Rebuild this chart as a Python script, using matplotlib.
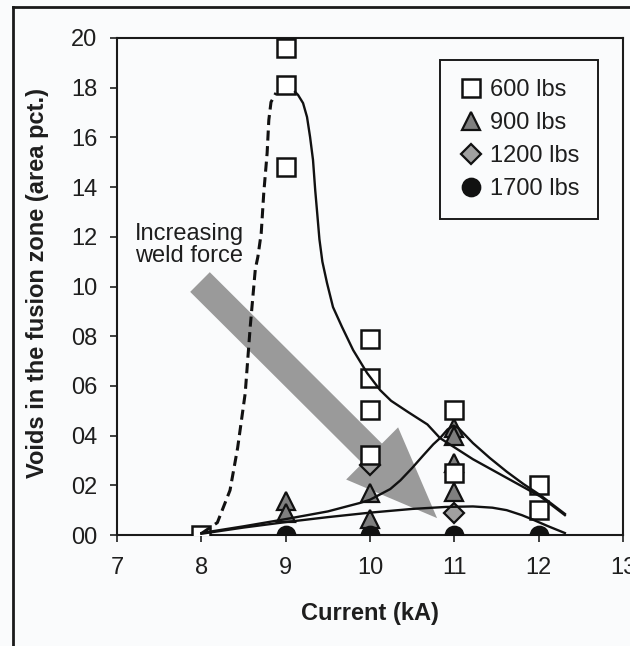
import matplotlib.pyplot as plt
from matplotlib.lines import Line2D

plt.rcParams['font.family'] = ['Liberation Sans', 'DejaVu Sans']

# measured points (current kA, voids)
x_600 = [8, 9, 9, 9, 10, 10, 10, 10, 11, 11, 12, 12]
y_600 = [0.0, 19.6, 18.1, 14.8, 7.9, 6.3, 5.05, 3.2, 5.05, 2.5, 2.0, 1.0]
x_900 = [9, 9, 10, 10, 11, 11, 11, 11]
y_900 = [1.35, 0.9, 1.7, 0.65, 4.3, 4.0, 2.9, 1.75]
x_1200 = [10, 11]
y_1200 = [2.8, 0.9]
x_1700 = [9, 10, 11, 12]
y_1700 = [0.0, 0.0, 0.0, 0.0]

# hand-drawn trend lines
dash_x = [8.01, 8.19, 8.34, 8.43, 8.52, 8.58, 8.64, 8.67, 8.71, 8.74, 8.78, 8.80,
          8.826, 8.885]
dash_y = [0.08, 0.5, 1.8, 3.5, 5.7, 8.4, 10.7, 11.19, 12.15, 13.76, 15.37, 16.7,
          17.42, 17.79]
fit600_x = [9.111, 9.146, 9.206, 9.253, 9.289, 9.324, 9.35, 9.375, 9.40, 9.435,
            9.49, 9.561, 9.668, 9.80, 9.965, 10.12, 10.25, 10.45, 10.68, 10.83,
            11.22, 11.62, 12.02, 12.31]
fit600_y = [17.83, 17.71, 17.38, 16.82, 16.02, 15.09, 13.88, 12.9, 11.9, 11.0,
            10.14, 9.17, 8.37, 7.44, 6.52, 5.83, 5.4, 4.95, 4.45, 3.9,
            3.05, 2.3, 1.55, 0.8]
fit900_x = [8.0, 8.5, 9.0, 9.5, 9.88, 10.0, 10.24, 10.36, 10.5, 10.63, 10.75,
            10.83, 10.92, 10.99, 11.05, 11.22, 11.42, 11.62, 11.82, 12.02, 12.31]
fit900_y = [0.08, 0.35, 0.64, 0.95, 1.29, 1.42, 1.85, 2.2, 2.7, 3.2, 3.65,
            3.9, 4.25, 4.4, 4.3, 3.7, 3.1, 2.55, 2.05, 1.6, 0.85]
flat_x = [8.0, 8.5, 9.0, 9.5, 10.0, 10.5, 10.9, 11.22, 11.45, 11.62, 11.8, 11.93,
          12.1, 12.31]
flat_y = [0.05, 0.3, 0.52, 0.72, 0.9, 1.05, 1.13, 1.15, 1.1, 1.0, 0.8, 0.62,
          0.37, 0.08]

xticks = [7, 8, 9, 10, 11, 12, 13]
yticks = [0, 2, 4, 6, 8, 10, 12, 14, 16, 18, 20]
ytick_labels = ['00', '02', '04', '06', '08', '10', '12', '14', '16', '18', '20']

bg = '#fafbfc'
txt = '#1e1e1e'
fs = 17

fig = plt.figure(figsize=(6.3, 6.46), dpi=100, facecolor=bg)
ax = fig.add_axes([0.1857, 0.1718, 0.8033, 0.7694], facecolor=bg)

# gray arrow "increasing weld force"
ax.annotate('', xy=(10.795, 0.68), xytext=(7.984, 10.18),
            arrowprops=dict(arrowstyle='simple,head_length=66,head_width=53,tail_width=20',
                            mutation_scale=1, shrinkA=0, shrinkB=0,
                            fc='#9a9a9a', ec='none'), zorder=1)
ax.text(7.854, 11.67, 'Increasing\nweld force', ha='center', va='center',
        fontsize=fs, color=txt, linespacing=1.0, zorder=2)

ms = 13
ax.plot(x_900, y_900, linestyle='none', marker='^', ms=ms, mfc='#7f7f7f',
        mec='#111111', mew=1.6, zorder=3, label='900 lbs')
ax.plot(x_1200, y_1200, linestyle='none', marker='D', ms=ms * 0.75, mfc='#a0a0a0',
        mec='#111111', mew=1.6, zorder=3, label='1200 lbs')
ax.plot(x_600, y_600, linestyle='none', marker='s', ms=ms, mfc='white',
        mec='#111111', mew=1.8, zorder=4, label='600 lbs')
ax.plot(x_1700, y_1700, linestyle='none', marker='o', ms=ms, mfc='#111111',
        mec='#111111', mew=1.2, zorder=4, label='1700 lbs')

lc = '#111111'
ax.plot(dash_x, dash_y, color=lc, lw=2.2, linestyle=(0, (3.3, 1.8)), zorder=5)
for cx, cy in [(fit600_x, fit600_y), (fit900_x, fit900_y), (flat_x, flat_y)]:
    ax.plot(cx, cy, color=lc, lw=1.7, solid_joinstyle='round', zorder=5)

ax.set_xlim(7, 13)
ax.set_ylim(0, 20)
ax.set_xticks(xticks)
ax.set_yticks(yticks)
ax.set_yticklabels(ytick_labels)
ax.tick_params(axis='both', direction='out', length=5, width=1.2,
               labelsize=fs, labelcolor=txt, colors=txt)
ax.tick_params(axis='x', pad=11)
ax.tick_params(axis='y', pad=9)
for sp in ax.spines.values():
    sp.set_linewidth(1.5)
    sp.set_color('#1a1a1a')

ax.set_xlabel('Current (kA)', fontsize=fs, fontweight='bold', color=txt, va='center')
ax.set_ylabel('Voids in the fusion zone (area pct.)', fontsize=fs, fontweight='bold',
              color=txt, va='center')
ax.xaxis.set_label_coords(0.499, -0.157)
ax.yaxis.set_label_coords(-0.158, 0.508)

handles, labels = ax.get_legend_handles_labels()
order = [labels.index(l) for l in ['600 lbs', '900 lbs', '1200 lbs', '1700 lbs']]
leg = ax.legend([handles[i] for i in order], [labels[i] for i in order],
                loc='upper right', bbox_to_anchor=(0.9506, 0.9557), borderaxespad=0,
                fontsize=fs, frameon=True, fancybox=False, edgecolor='#1a1a1a',
                facecolor=bg, framealpha=1, borderpad=0.8, handlelength=1.0,
                handletextpad=0.3, labelspacing=0.47)
leg.get_frame().set_linewidth(1.4)
for t in leg.get_texts():
    t.set_color(txt)

# outer frame of the picture (only left and top edges are inside the crop)
fig.add_artist(Line2D([13 / 630, 13 / 630], [0, 1 - 7 / 646], transform=fig.transFigure,
                      color='#1a1a1a', lw=2))
fig.add_artist(Line2D([13 / 630, 1], [1 - 7 / 646, 1 - 7 / 646], transform=fig.transFigure,
                      color='#1a1a1a', lw=2))

fig.savefig('out.png', dpi=100, facecolor=bg)
